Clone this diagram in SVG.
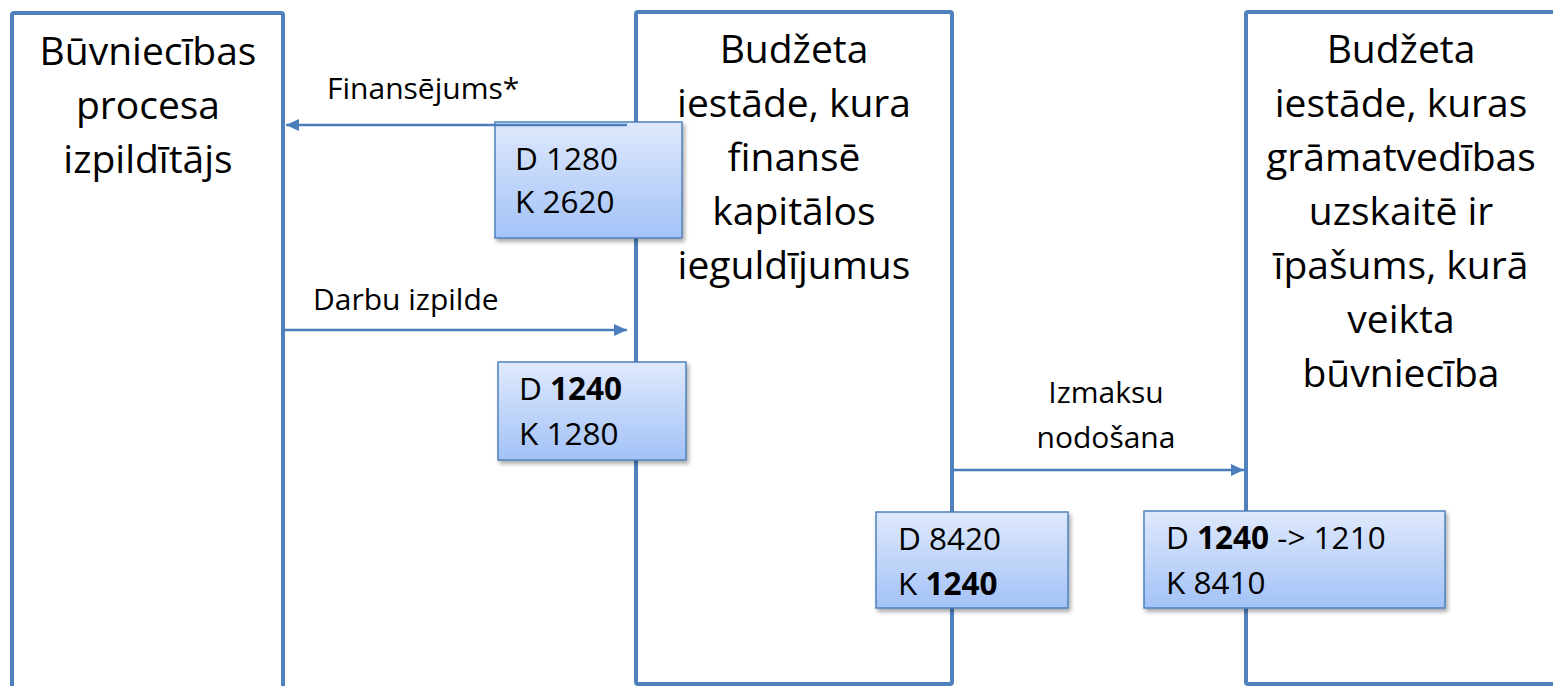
<svg xmlns="http://www.w3.org/2000/svg" width="1553" height="686" viewBox="0 0 1553 686">
<defs>
<linearGradient id="g" x1="0" y1="0" x2="0" y2="1">
<stop offset="0" stop-color="#dfe9fc"/>
<stop offset="1" stop-color="#a3c2f7"/>
</linearGradient>
<filter id="sh" x="-10%" y="-10%" width="130%" height="140%">
<feDropShadow dx="2" dy="3" stdDeviation="2" flood-color="#000" flood-opacity="0.35"/>
</filter>
<marker id="ah" markerUnits="userSpaceOnUse" markerWidth="14" markerHeight="12" refX="13" refY="6" orient="auto">
<path d="M0,0 L13,6 L0,12 Z" fill="#4a7ebb"/>
</marker>
</defs>
<style>
.big{fill:#fff;stroke:#4f81bd;stroke-width:4}
.acc{fill:url(#g);stroke:#4f81bd;stroke-width:1.5;filter:url(#sh)}
.t{font-family:"Open Sans","Liberation Sans",sans-serif;font-size:39px;fill:#000;text-anchor:middle}
.a{font-family:"Open Sans","Liberation Sans",sans-serif;font-size:31.5px;fill:#000}
.l{font-family:"Open Sans","Liberation Sans",sans-serif;font-size:30px;fill:#000}
.b{font-weight:700}
.c{stroke:#4a7ebb;stroke-width:2.5;fill:none;marker-end:url(#ah)}
</style>
<rect width="1553" height="686" fill="#fff"/>
<g id="node-builder">
<rect class="big" x="12" y="13" width="271" height="690" rx="2"/>
<text class="t"><tspan x="148" y="65">Būvniecības</tspan><tspan x="148" y="119">procesa</tspan><tspan x="148" y="173">izpildītājs</tspan></text>
</g>
<g id="node-financer">
<rect class="big" x="636" y="12" width="316" height="672" rx="2"/>
<text class="t"><tspan x="794" y="63">Budžeta</tspan><tspan x="794" y="117">iestāde, kura</tspan><tspan x="794" y="171">finansē</tspan><tspan x="794" y="225">kapitālos</tspan><tspan x="794" y="279">ieguldījumus</tspan></text>
</g>
<g id="node-owner">
<rect class="big" x="1246" y="12" width="340" height="672" rx="2"/>
<text class="t"><tspan x="1401" y="63">Budžeta</tspan><tspan x="1401" y="117">iestāde, kuras</tspan><tspan x="1401" y="171">grāmatvedības</tspan><tspan x="1401" y="225">uzskaitē ir</tspan><tspan x="1401" y="279">īpašums, kurā</tspan><tspan x="1401" y="333">veikta</tspan><tspan x="1401" y="387">būvniecība</tspan></text>
</g>
<g id="entry-1">
<rect class="acc" x="495" y="122" width="187" height="116"/>
<text class="a"><tspan x="515" y="170">D 1280</tspan><tspan x="515" y="213">K 2620</tspan></text>
</g>
<g id="entry-2">
<rect class="acc" x="498" y="362" width="188" height="98"/>
<text class="a"><tspan x="519" y="400">D <tspan class="b">1240</tspan></tspan><tspan x="519" y="445">K 1280</tspan></text>
</g>
<g id="entry-3">
<rect class="acc" x="876" y="512" width="192" height="96"/>
<text class="a"><tspan x="898" y="550">D 8420</tspan><tspan x="898" y="595">K <tspan class="b">1240</tspan></tspan></text>
</g>
<g id="entry-4">
<rect class="acc" x="1144" y="511" width="301" height="97"/>
<text class="a"><tspan x="1166" y="549">D <tspan class="b">1240</tspan> -&gt; 1210</tspan><tspan x="1166" y="594">K 8410</tspan></text>
</g>
<g id="connectors">
<line class="c" x1="627" y1="125" x2="286" y2="125"/>
<line class="c" x1="284" y1="330" x2="627" y2="330"/>
<line class="c" x1="953" y1="470" x2="1244" y2="470"/>
<text class="l" x="327" y="99">Finansējums*</text>
<text class="l" x="313" y="310">Darbu izpilde</text>
<text class="l" text-anchor="middle"><tspan x="1106" y="403">Izmaksu</tspan><tspan x="1106" y="448">nodošana</tspan></text>
</g>
</svg>
